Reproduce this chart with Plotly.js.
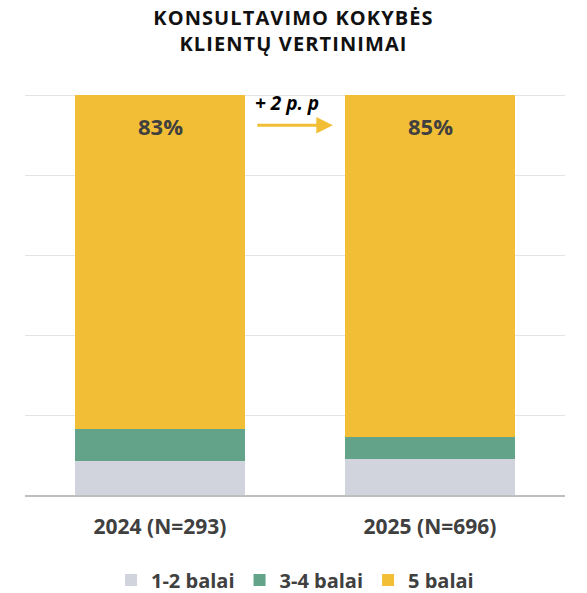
<!DOCTYPE html>
<html>
<head>
<meta charset="utf-8">
<script src="https://cdn.plot.ly/plotly-3.0.1.min.js"></script>
<style>
html, body { margin: 0; padding: 0; background: #fff; }
#chart { width: 587px; height: 593px; }
.gtitle { letter-spacing: 1.1px; }
</style>
</head>
<body>
<div id="chart"></div>
<script>
var categories = ["2024 (N=293)", "2025 (N=696)"];
var seriesNames = ["1-2 balai", "3-4 balai", "5 balai"];
var low = [8.4, 9.0];
var mid = [8.2, 5.6];
var high = [83.4, 85.4];
var changeLabel = "+ 2 p. p";

var colors = ["#d1d4dc", "#62a38a", "#f2be35"];
var seriesValues = [low, mid, high];

var traces = seriesValues.map(function (vals, i) {
  return {
    type: "bar",
    name: seriesNames[i],
    x: categories,
    y: vals,
    marker: { color: colors[i], line: { width: 0 } },
    hoverinfo: "skip"
  };
});

var font = "'Open Sans', 'DejaVu Sans', sans-serif";

var annotations = categories.map(function (c, i) {
  var total = low[i] + mid[i] + high[i];
  return {
    x: c, y: total, xref: "x", yref: "y",
    text: "<b>" + Math.round(high[i]) + "%</b>",
    showarrow: false, yshift: -31,
    font: { family: font, size: 22, color: "#404040" }
  };
});

annotations.push({
  x: 0.5, y: 100, xref: "x", yref: "y",
  text: "<b><i>" + changeLabel + "</i></b>",
  showarrow: false, yshift: -8, xshift: -8,
  font: { family: font, size: 19, color: "#000" }
});

annotations.push({
  x: 0.64, y: 92.5, xref: "x", yref: "y",
  ax: 0.355, ay: 92.5, axref: "x", ayref: "y",
  text: "", showarrow: true,
  arrowhead: 2, arrowsize: 1.1, arrowwidth: 3, arrowcolor: "#f2be35"
});

var layout = {
  width: 587, height: 593,
  margin: { l: 25, r: 22, t: 94, b: 98, autoexpand: false },
  paper_bgcolor: "#fff", plot_bgcolor: "#fff",
  barmode: "stack",
  bargap: 0.374,
  title: {
    text: "<b>KONSULTAVIMO KOKYBĖS<br>KLIENTŲ VERTINIMAI</b>",
    x: 0.5, xanchor: "center", yref: "container", y: 0.957, yanchor: "middle",
    font: { family: font, size: 20, color: "#111111" }
  },
  xaxis: {
    type: "category",
    range: [-0.5, 1.5],
    showgrid: false,
    showline: true, linecolor: "#bfbfbf", linewidth: 1.5,
    ticks: "", ticklabelstandoff: 12,
    tickfont: { family: font, size: 21, color: "#404040" },
    tickprefix: "<b>", ticksuffix: "</b>"
  },
  yaxis: {
    range: [0, 100.3],
    dtick: 20,
    showgrid: true, gridcolor: "#e3e3e3", gridwidth: 1,
    zeroline: false,
    showticklabels: false,
    ticks: ""
  },
  showlegend: true,
  legend: {
    orientation: "h",
    x: 0.5, xanchor: "center", xref: "paper",
    yref: "container", y: 0.022, yanchor: "middle",
    traceorder: "normal",
    itemwidth: 30,
    font: { family: font, size: 20, color: "#404040", weight: "bold" }
  },
  annotations: annotations
};

Plotly.newPlot("chart", traces, layout, { displayModeBar: false, staticPlot: true });
</script>
</body>
</html>
